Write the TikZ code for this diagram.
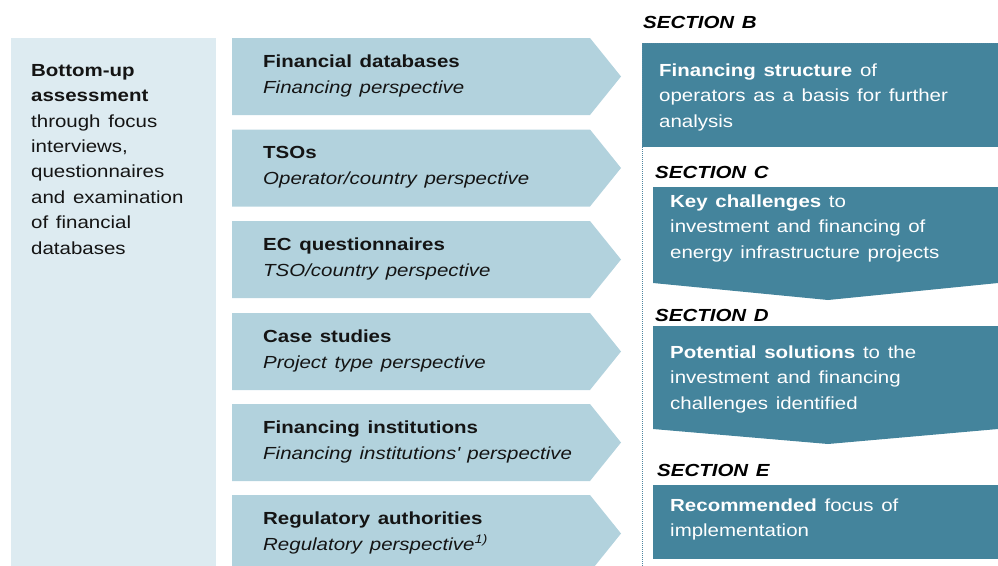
\documentclass[tikz,border=0pt]{standalone}
\usepackage{fontspec}
\setmainfont{Liberation Sans}[FakeStretch=1.17, WordSpace=1.35]
\definecolor{lightbg}{HTML}{DDEBF1}
\definecolor{chev}{HTML}{B2D2DD}
\definecolor{dark}{HTML}{44849C}
\definecolor{txtc}{HTML}{141414}
\definecolor{dotc}{HTML}{4F86A0}
\newcommand{\firstln}{\rule{0pt}{14pt}}
\tikzset{
  txt/.style={anchor=north west, inner sep=0pt, align=left, text=txtc,
    font=\fontsize{17.5}{25.4}\selectfont},
  ctxt/.style={txt, font=\fontsize{17.5}{26}\selectfont},
  wtxt/.style={txt, text=white},
  sec/.style={anchor=west, inner sep=0pt, text=black,
    font=\fontsize{17.5}{21}\selectfont\bfseries\itshape},
  chevshape/.style={fill=chev, draw=none},
  darkshape/.style={fill=dark, draw=none}
}
\begin{document}
\begin{tikzpicture}[x=1pt,y=-1pt]
\useasboundingbox (0,0) rectangle (998,565);
\clip (0,0) rectangle (998,565);
% left box
\fill[lightbg] (11,38) rectangle (216,570);
\node[txt] (left) at (31,62) {\firstln\textbf{Bottom-up}\\\textbf{assessment}\\through focus\\interviews,\\questionnaires\\and examination\\of financial\\databases};
% chevrons
\foreach \t in {38,129.5,221,313,404,495}{
  \path[chevshape] (232,\t) -- (590,\t) -- (621,\t+38.5) -- (590,\t+77) -- (232,\t+77) -- cycle;
}
\node[ctxt] (c1) at (263,53) {\firstln\textbf{Financial databases}\\\textit{Financing perspective}};
\node[ctxt] (c2) at (263,144.5) {\firstln\textbf{TSOs}\\\textit{Operator/country perspective}};
\node[ctxt] (c3) at (263,236) {\firstln\textbf{EC questionnaires}\\\textit{TSO/country perspective}};
\node[ctxt] (c4) at (263,328) {\firstln\textbf{Case studies}\\\textit{Project type perspective}};
\node[ctxt] (c5) at (263,419) {\firstln\textbf{Financing institutions}\\\textit{Financing institutions\textquotesingle{} perspective}};
\node[ctxt] (c6) at (263,510) {\firstln\textbf{Regulatory authorities}\\\textit{Regulatory perspective\textsuperscript{1)}}};
% right side
\path[darkshape] (642,43) rectangle (998,147);
\draw[dotc, line width=0.8pt, dash pattern=on 1pt off 1pt] (642,147) -- (642,570);
\draw[dotc, line width=0.8pt, dash pattern=on 1pt off 1pt] (642,147) -- (642,43) -- (998,43);
\path[darkshape] (653,187) -- (998,187) -- (998,283) -- (828,300) -- (653,283) -- cycle;
\path[darkshape] (653,326) -- (998,326) -- (998,429) -- (828,444) -- (653,429) -- cycle;
\path[darkshape] (653,485) rectangle (998,559);
\node[sec] (sb) at (643,22) {SECTION B};
\node[sec] (sc) at (655,172) {SECTION C};
\node[sec] (sd) at (655,315) {SECTION D};
\node[sec] (se) at (657,470) {SECTION E};
\node[wtxt] (b) at (659,62) {\firstln\textbf{Financing structure} of\\operators as a basis for further\\analysis};
\node[wtxt] (c) at (670,193) {\firstln\textbf{Key challenges} to\\investment and financing of\\energy infrastructure projects};
\node[wtxt] (d) at (670,344) {\firstln\textbf{Potential solutions} to the\\investment and financing\\challenges identified};
\node[wtxt] (e) at (670,497) {\firstln\textbf{Recommended} focus of\\implementation};
\end{tikzpicture}
\end{document}
